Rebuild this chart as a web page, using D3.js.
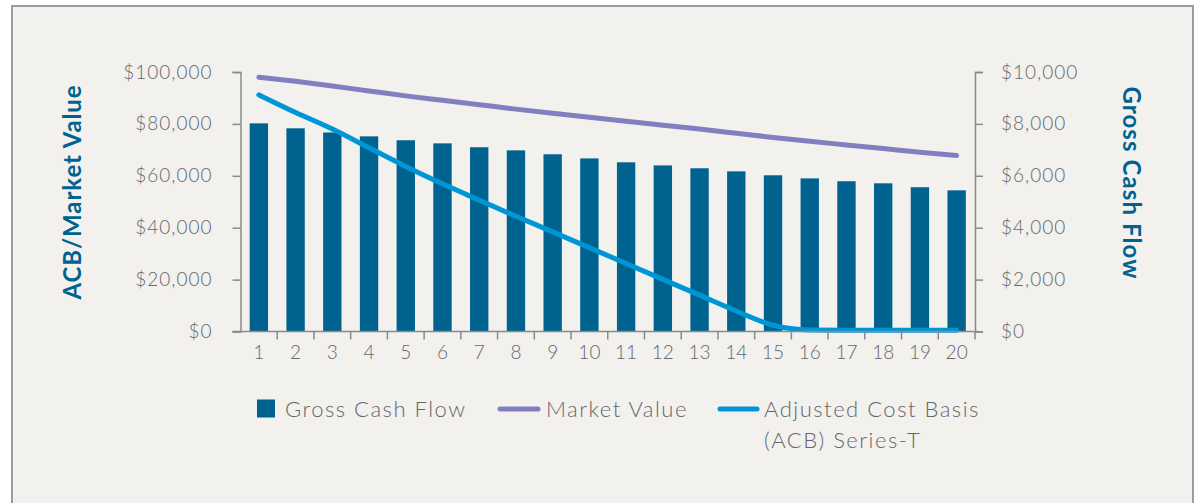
<!DOCTYPE html>
<html><head><meta charset="utf-8">
<script src="https://cdn.jsdelivr.net/npm/d3@7"></script>
<style>
html,body{margin:0;padding:0;background:#fff;}
svg{display:block;}
</style></head>
<body>
<svg id="chart" width="1195" height="503"></svg>
<script>
const years = d3.range(1, 21).map(String);
const grossCashFlow = [8020,7830,7670,7520,7370,7250,7100,6980,6830,6670,6520,6400,6290,6170,6020,5900,5790,5710,5560,5440];
const marketValue = [98000,96400,94600,92700,90800,89100,87400,85700,84100,82600,81000,79500,78000,76400,74800,73300,71900,70500,69100,67800];
const acb = [91200,84400,78000,70800,63600,56900,50600,44400,38400,32300,26200,20100,14000,7900,2400,600,500,500,500,500];
const leftTicks = [0,20000,40000,60000,80000,100000];
const rightTicks = [0,2000,4000,6000,8000,10000];
const legendLabels = ["Gross Cash Flow","Market Value","Adjusted Cost Basis","(ACB) Series-T"];
const titles = {left:"ACB/Market Value", right:"Gross Cash Flow"};

const C = {bar:"#00628f", mv:"#8080c0", acb:"#0096d6", axis:"#8a8a8a", text:"#65676a", title:"#00628f", bg:"#f2f1ee"};
const FONT = "Lato, 'Open Sans', sans-serif";

const svg = d3.select("#chart");
svg.append("rect").attr("x",12).attr("y",6).attr("width",1181).attr("height",520)
  .attr("fill",C.bg).attr("stroke","#9a9c9e").attr("stroke-width",2);

const L = 240.5, R = 975, T = 72, B = 331.5;
const x = d3.scaleBand().domain(years).range([L,R]).paddingInner(0.5).paddingOuter(0.25);
const yL = d3.scaleLinear().domain([0,100000]).range([B,T]);
const yR = d3.scaleLinear().domain([0,10000]).range([B,T]);

// bars
svg.append("g").selectAll("rect").data(grossCashFlow).join("rect")
  .attr("x",(d,i)=>x(years[i])).attr("width",x.bandwidth())
  .attr("y",d=>yR(d)).attr("height",d=>B-yR(d)).attr("fill",C.bar);

// lines
const line = d3.line().x((d,i)=>x(years[i])+x.bandwidth()/2).y(d=>yL(d)).curve(d3.curveMonotoneX);
svg.append("path").datum(marketValue).attr("d",line).attr("fill","none")
  .attr("stroke",C.mv).attr("stroke-width",5).attr("stroke-linecap","round");
svg.append("path").datum(acb).attr("d",line).attr("fill","none")
  .attr("stroke",C.acb).attr("stroke-width",5).attr("stroke-linecap","round");

const fmt = d=>"$"+d3.format(",")(d);
function styleAxis(g){
  g.selectAll(".domain").attr("stroke",C.axis).attr("stroke-width",1.5);
  g.selectAll(".tick line").attr("stroke",C.axis).attr("stroke-width",1.5);
  g.selectAll("text").attr("fill",C.text).style("font-family",FONT).style("font-weight","300").style("font-size","19px").style("letter-spacing","1px");
}
const gl = svg.append("g").attr("transform",`translate(${L},0)`)
  .call(d3.axisLeft(yL).tickValues(leftTicks).tickFormat(fmt).tickSize(8).tickSizeOuter(8).tickPadding(20));
styleAxis(gl);
const gr = svg.append("g").attr("transform",`translate(${R},0)`)
  .call(d3.axisRight(yR).tickValues(rightTicks).tickFormat(fmt).tickSize(8).tickSizeOuter(8).tickPadding(18));
styleAxis(gr);

// x axis: ticks at band boundaries
const gx = svg.append("g").attr("transform",`translate(0,${B})`);
gx.append("line").attr("x1",L-8).attr("x2",R+3).attr("stroke",C.axis).attr("stroke-width",1.5);
const step = x.step();
gx.selectAll("line.tk").data(d3.range(1,21)).join("line").attr("class","tk")
  .attr("x1",(d,i)=>x(years[i])+x.bandwidth()/2+step/2).attr("x2",(d,i)=>x(years[i])+x.bandwidth()/2+step/2)
  .attr("y1",0).attr("y2",8).attr("stroke",C.axis).attr("stroke-width",1.5);
gx.selectAll("text").data(years).join("text")
  .attr("x",d=>x(d)+x.bandwidth()/2).attr("y",27).attr("text-anchor","middle")
  .attr("fill",C.text).style("font-family",FONT).style("font-weight","300").style("font-size","19px").text(d=>d);

// titles
svg.append("text").attr("transform","translate(81,192) rotate(-90)").attr("text-anchor","middle")
  .attr("fill",C.title).style("font-family",FONT).style("font-weight","bold").style("font-size","24px").style("letter-spacing","0.9px").text(titles.left);
svg.append("text").attr("transform","translate(1123,183) rotate(90)").attr("text-anchor","middle")
  .attr("fill",C.title).style("font-family",FONT).style("font-weight","bold").style("font-size","24px").style("letter-spacing","1.1px").text(titles.right);

// legend
const lg = svg.append("g").style("font-family",FONT).style("font-weight","300").style("font-size","22px").style("letter-spacing","1.5px").attr("fill",C.text);
lg.append("rect").attr("x",257).attr("y",399.5).attr("width",18).attr("height",18).attr("fill",C.bar);
lg.append("text").attr("x",285).attr("y",417).text(legendLabels[0]);
lg.append("line").attr("x1",500).attr("x2",538).attr("y1",409).attr("y2",409).attr("stroke",C.mv).attr("stroke-width",5).attr("stroke-linecap","round");
lg.append("text").attr("x",546).attr("y",417).text(legendLabels[1]);
lg.append("line").attr("x1",720).attr("x2",757).attr("y1",409).attr("y2",409).attr("stroke",C.acb).attr("stroke-width",5).attr("stroke-linecap","round");
lg.append("text").attr("x",764).attr("y",417).text(legendLabels[2]);
lg.append("text").attr("x",764).attr("y",448).text(legendLabels[3]);
</script>
</body></html>
